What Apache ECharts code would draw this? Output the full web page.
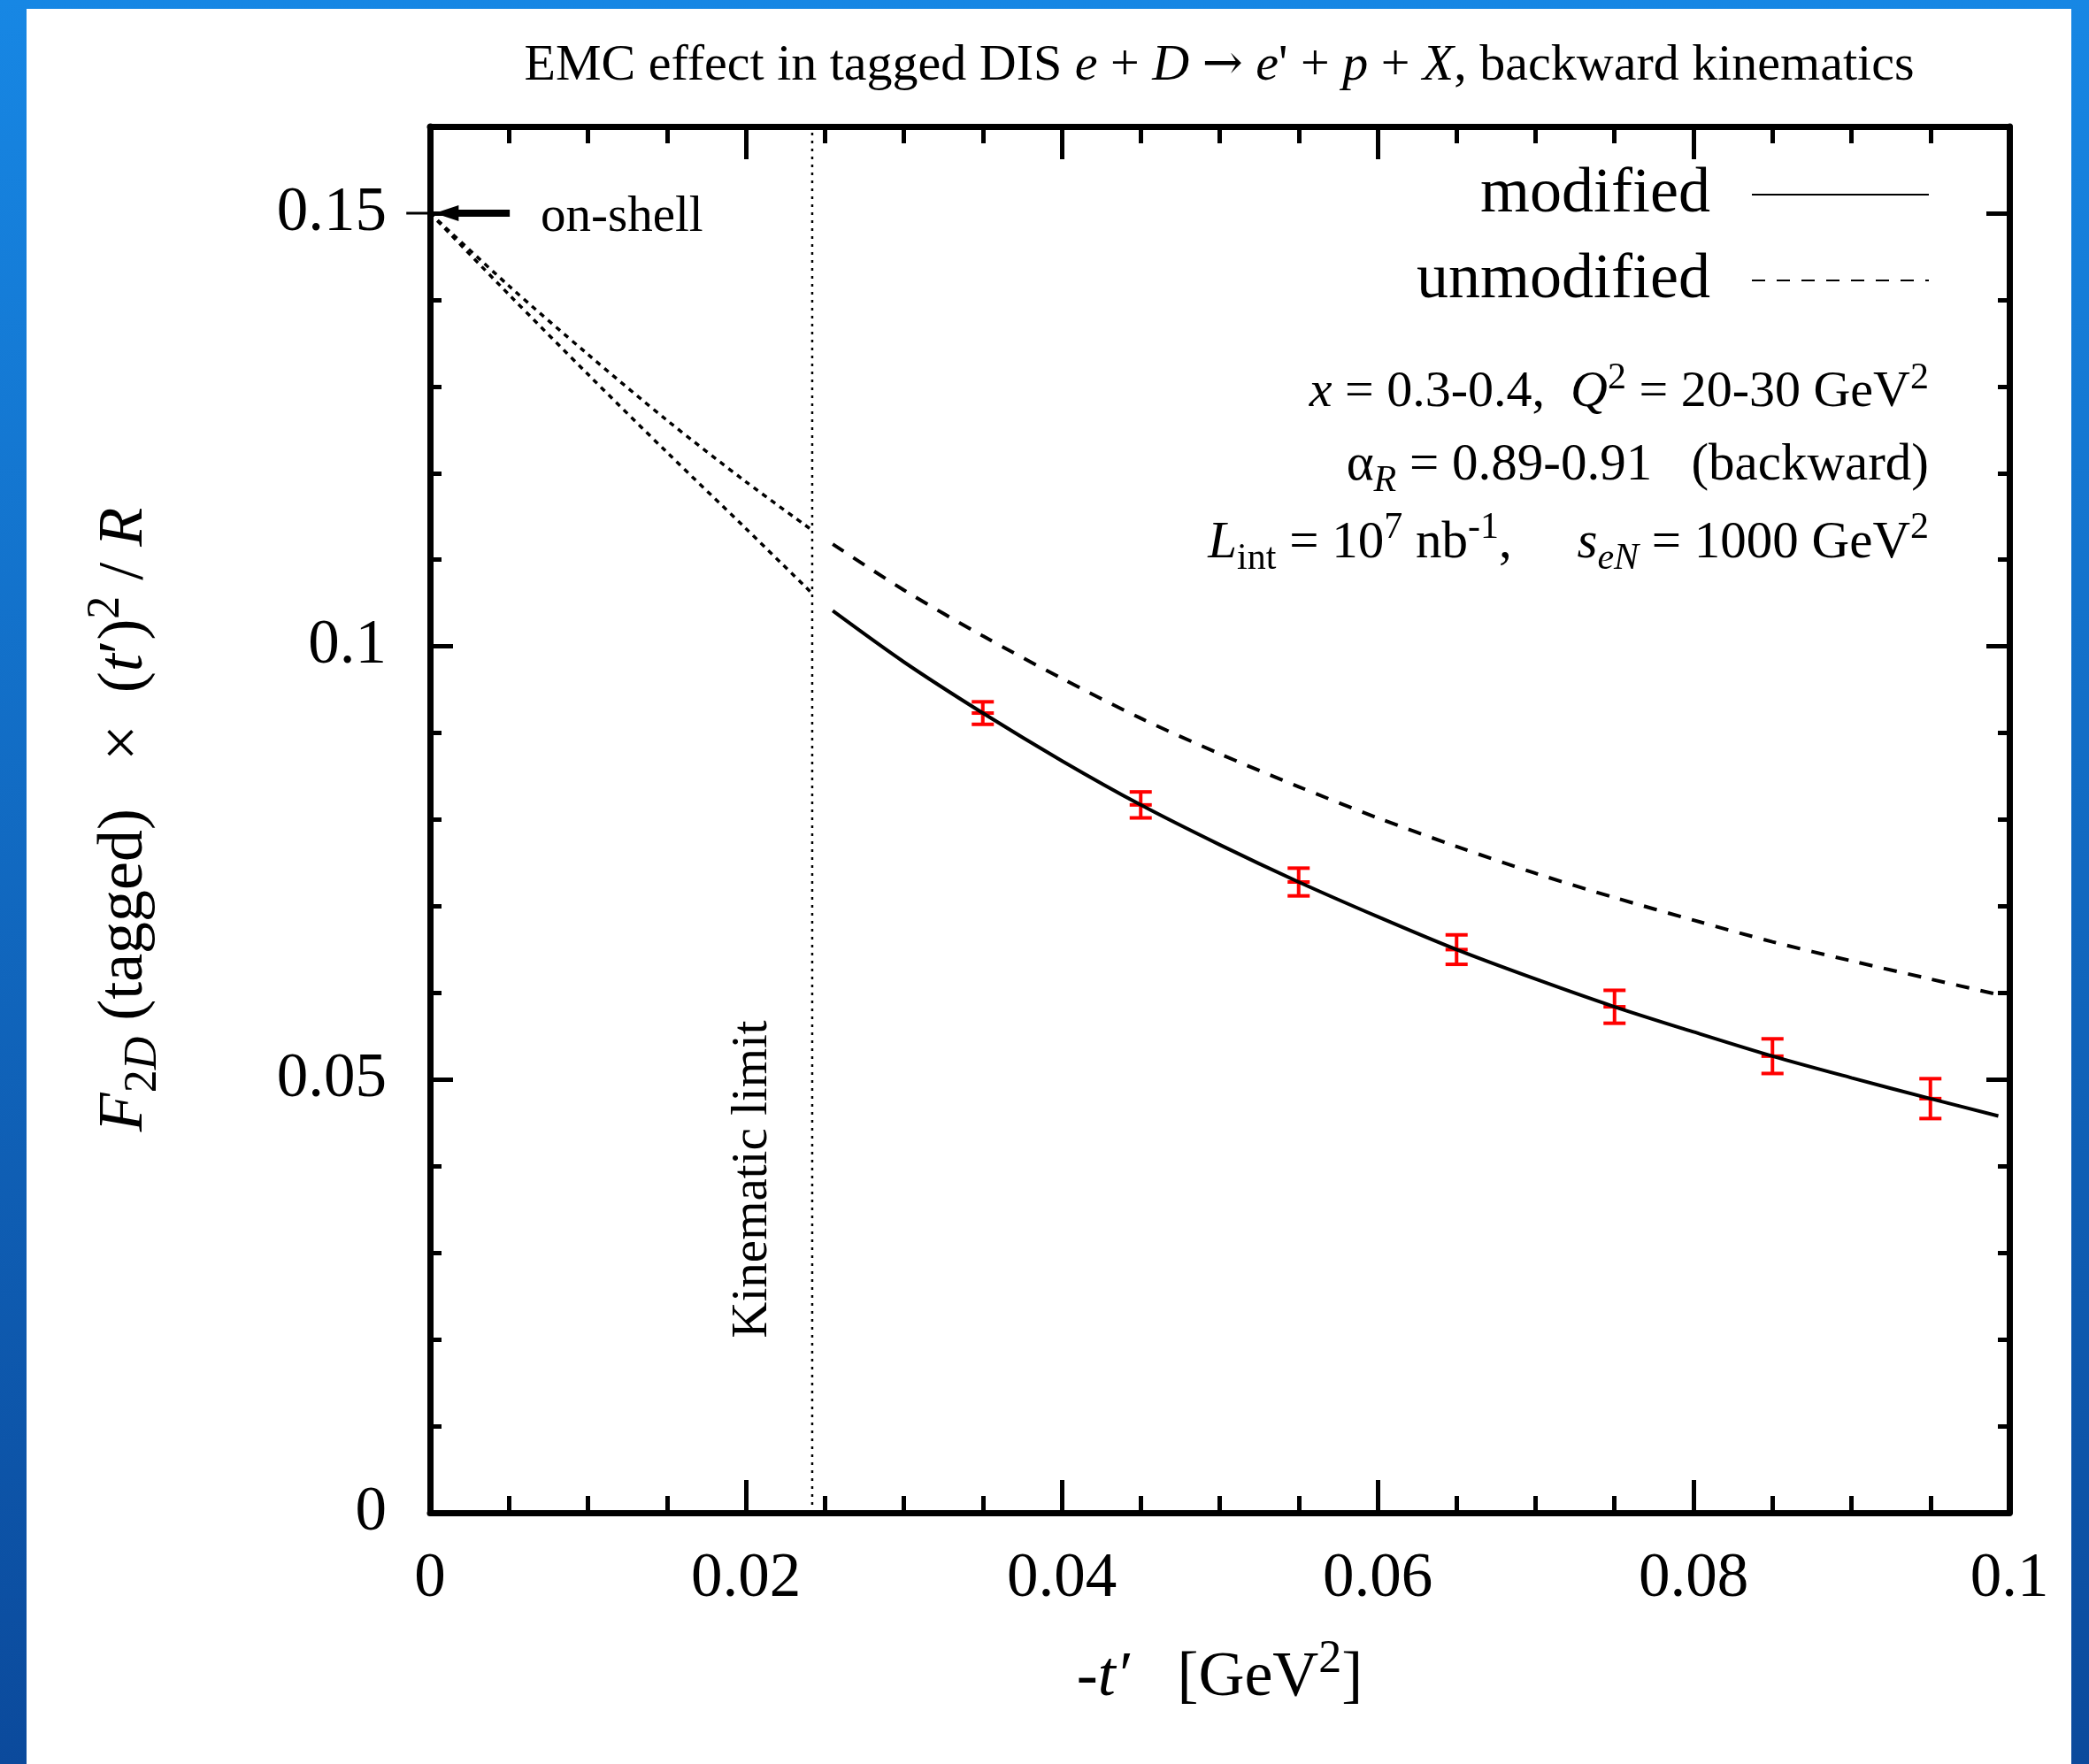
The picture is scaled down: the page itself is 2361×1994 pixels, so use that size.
<!DOCTYPE html>
<html><head><meta charset="utf-8">
<script src="https://cdn.jsdelivr.net/npm/echarts@6/dist/echarts.min.js"></script>
<style>html,body{margin:0;padding:0;background:#fff}#c{width:2361px;height:1994px}</style>
</head><body><div id="c"></div><script>
// ---------- data ----------
const tCurve = [0.0255, 0.030, 0.035, 0.040, 0.045, 0.050, 0.055, 0.060, 0.065, 0.070, 0.075, 0.080, 0.085, 0.090, 0.095, 0.0993];
const modifiedCurve = [0.1041, 0.0982, 0.0923, 0.0868, 0.0817, 0.0771, 0.0728, 0.0688, 0.0650, 0.0616, 0.0584, 0.0555, 0.0527, 0.0502, 0.0478, 0.0458];
const unmodifiedCurve = [0.1118, 0.1065, 0.1012, 0.0963, 0.0917, 0.0876, 0.0838, 0.0802, 0.0769, 0.0738, 0.0710, 0.0684, 0.0659, 0.0637, 0.0616, 0.0598];
const tExtrap = [0.0, 0.005, 0.010, 0.015, 0.020, 0.0242];
const modifiedExtrap = [0.150, 0.1406, 0.1314, 0.1224, 0.1136, 0.1061];
const unmodifiedExtrap = [0.150, 0.1416, 0.1337, 0.1261, 0.1190, 0.1134];
const tData = [0.035, 0.045, 0.055, 0.065, 0.075, 0.085, 0.095];
const fData = [0.0923, 0.0817, 0.0728, 0.0650, 0.0584, 0.0527, 0.0478];
const fErr = [0.0013, 0.0015, 0.0016, 0.0017, 0.0019, 0.0020, 0.0023];
const kinematicLimit = 0.0242;
const onShellValue = 0.15;
const onShellArrowT = [0.00505, 0.0003, -0.0015]; // tail, tip, outer stub
const xTicks = {min: 0, max: 0.1, major: 0.02, minor: 0.005};
const yTicks = {min: 0, max: 0.16, major: 0.05, minor: 0.01};

// ---------- helpers ----------
const SERIF = '"Liberation Serif", "Times New Roman", serif';
function rich(fs) {
  const L = Math.round(fs * 1.3), s = Math.round(fs * 0.72);
  return {
    i: {fontSize: fs, fontFamily: SERIF, fontStyle: 'italic', lineHeight: L, color: '#000'},
    ar: {fontSize: Math.round(fs * 0.95), fontFamily: '"DejaVu Serif", serif', lineHeight: L, color: '#000'},
    sup: {fontSize: s, fontFamily: SERIF, lineHeight: s, verticalAlign: 'top', color: '#000'},
    sub: {fontSize: s, fontFamily: SERIF, lineHeight: s, verticalAlign: 'bottom', color: '#000'},
    subi: {fontSize: s, fontFamily: SERIF, fontStyle: 'italic', lineHeight: s, verticalAlign: 'bottom', color: '#000'}
  };
}
function txt(text, x, y, fs, align, extra) {
  return Object.assign({
    type: 'text', x: x, y: y, z: 50,
    style: {text: text, fontFamily: SERIF, fontSize: fs, lineHeight: Math.round(fs * 1.3),
      fill: '#000', align: align, verticalAlign: 'middle', rich: rich(fs)}
  }, extra || {});
}
const pairs = (xs, ys) => xs.map((x, k) => [x, ys[k]]);

function xAx(pos, interval, len, main) {
  return {
    type: 'value', position: pos, min: xTicks.min, max: xTicks.max, interval: interval,
    axisLine: {show: main, onZero: false, lineStyle: {color: '#000', width: 7}},
    axisTick: {show: true, inside: true, length: len, lineStyle: {color: '#000', width: 5}},
    axisLabel: {show: main && pos === 'bottom', margin: 40, fontFamily: SERIF, fontSize: 71, color: '#000'},
    splitLine: {show: false}
  };
}
function yAx(pos, interval, len, main) {
  return {
    type: 'value', position: pos, min: yTicks.min, max: yTicks.max, interval: interval,
    axisLine: {show: main, onZero: false, lineStyle: {color: '#000', width: 7}},
    axisTick: {show: true, inside: true, length: len, lineStyle: {color: '#000', width: 5}},
    axisLabel: {show: main && pos === 'left', margin: 49, fontFamily: SERIF, fontSize: 71, color: '#000', showMaxLabel: false},
    splitLine: {show: false}
  };
}
const xAxes = [xAx('bottom', xTicks.major, 37, true), xAx('bottom', xTicks.minor, 19, false),
               xAx('top', xTicks.major, 37, true), xAx('top', xTicks.minor, 19, false)];
Object.assign(xAxes[0], {
  name: '-{i|t′}   [GeV{sup|2}]', nameLocation: 'middle', nameGap: 140,
  nameTextStyle: {fontFamily: SERIF, fontSize: 72, lineHeight: 94, color: '#000', rich: rich(72)}
});
const yAxes = [yAx('left', yTicks.major, 26, true), yAx('left', yTicks.minor, 13, false),
               yAx('right', yTicks.major, 26, true), yAx('right', yTicks.minor, 13, false)];
Object.assign(yAxes[0], {
  name: '{i|F}{sub|2}{subi|D} (tagged)   ×  ({i|t}′){sup|2} / {i|R}', nameLocation: 'middle', nameGap: 298,
  nameTextStyle: {fontFamily: SERIF, fontSize: 72, lineHeight: 94, color: '#000', rich: rich(72)}
});

const chart = echarts.init(document.getElementById('c'), null, {renderer: 'canvas'});
chart.setOption({
  animation: false,
  backgroundColor: '#fff',
  grid: {left: 486, right: 90, top: 143, bottom: 284},
  xAxis: xAxes,
  yAxis: yAxes,
  legend: {
    data: ['modified', 'unmodified'], orient: 'vertical', align: 'right',
    right: 175, top: 175, itemWidth: 200, itemHeight: 20, itemGap: 17,
    itemStyle: {color: 'rgba(0,0,0,0)', borderColor: 'rgba(0,0,0,0)', borderWidth: 0},
    textStyle: {fontFamily: SERIF, fontSize: 72, lineHeight: 80, color: '#000', padding: [0, 42, 0, 0]},
    selectedMode: false
  },
  graphic: [
    {type: 'rect', z: -100, shape: {x: 0, y: 0, width: 2361, height: 1994},
     style: {fill: new echarts.graphic.LinearGradient(0, 0, 0, 1, [
       {offset: 0, color: '#1787e4'}, {offset: 1, color: '#0b4a9c'}])}},
    {type: 'rect', z: -99, shape: {x: 30, y: 10, width: 2311, height: 1994}, style: {fill: '#fff'}},
    txt('EMC effect in tagged DIS {i|e} + {i|D} {ar|→} {i|e}\' + {i|p} + {i|X}, backward kinematics', 1378, 75, 58, 'center'),
    txt('on-shell', 611, 246, 57, 'left'),
    txt('{i|x} = 0.3-0.4,  {i|Q}{sup|2} = 20-30 GeV{sup|2}', 2180, 444, 58, 'right'),
    txt('α{subi|R} = 0.89-0.91   (backward)', 2180, 526, 59, 'right'),
    txt('{i|L}{sub|int} = 10{sup|7} nb{sup|-1},     {i|s}{subi|eN} = 1000 GeV{sup|2}', 2180, 614, 59, 'right'),
    txt('Kinematic limit', 851, 1333, 57, 'center', {rotation: Math.PI / 2})
  ],
  series: [
    {
      name: 'kinematic limit', type: 'line', symbol: 'none', silent: true,
      data: [[kinematicLimit, yTicks.min], [kinematicLimit, yTicks.max]],
      lineStyle: {color: '#000', width: 2.5, type: [3, 6]}
    },
    {
      name: 'data', type: 'custom', z: 1,
      data: tData.map((t, k) => [t, fData[k], fErr[k]]),
      renderItem: function (params, api) {
        const x = api.value(0), y = api.value(1), e = api.value(2);
        const c = api.coord([x, y]), hi = api.coord([x, y + e]), lo = api.coord([x, y - e]);
        const hw = 12.5, st = {stroke: '#ff0000', lineWidth: 4};
        return {type: 'group', children: [
          {type: 'line', shape: {x1: c[0], y1: hi[1], x2: c[0], y2: lo[1]}, style: st},
          {type: 'line', shape: {x1: c[0] - hw, y1: hi[1], x2: c[0] + hw, y2: hi[1]}, style: st},
          {type: 'line', shape: {x1: c[0] - hw, y1: lo[1], x2: c[0] + hw, y2: lo[1]}, style: st},
          {type: 'line', shape: {x1: c[0] - hw, y1: c[1], x2: c[0] + hw, y2: c[1]}, style: st}
        ]};
      }
    },
    {
      name: 'modified', type: 'line', symbol: 'none', smooth: 0.3, z: 3,
      data: pairs(tCurve, modifiedCurve),
      lineStyle: {color: '#000', width: 4, type: 'solid'}, itemStyle: {color: '#000'}
    },
    {
      name: 'unmodified', type: 'line', symbol: 'none', smooth: 0.3,
      data: pairs(tCurve, unmodifiedCurve),
      lineStyle: {color: '#000', width: 4, type: [15, 13]}, itemStyle: {color: '#000'}
    },
    {
      name: 'modified (extrapolation)', type: 'line', symbol: 'none', smooth: 0.3,
      data: pairs(tExtrap, modifiedExtrap),
      lineStyle: {color: '#000', width: 3.5, type: [6, 6]}
    },
    {
      name: 'unmodified (extrapolation)', type: 'line', symbol: 'none', smooth: 0.3,
      data: pairs(tExtrap, unmodifiedExtrap),
      lineStyle: {color: '#000', width: 3.5, type: [6, 6]}
    },
    {
      name: 'on-shell arrow', type: 'custom', clip: false, z: 5, silent: true,
      data: [[onShellArrowT[0], onShellValue, onShellArrowT[1], onShellArrowT[2]]],
      renderItem: function (params, api) {
        const y = api.value(1);
        const tail = api.coord([api.value(0), y]);
        const tip = api.coord([api.value(2), y]);
        const stub = api.coord([api.value(3), y]);
        const head = 27;
        return {type: 'group', children: [
          {type: 'line', shape: {x1: stub[0], y1: stub[1], x2: tip[0], y2: tip[1]}, style: {stroke: '#000', lineWidth: 3}},
          {type: 'line', shape: {x1: tip[0] + head - 3, y1: tail[1], x2: tail[0], y2: tail[1]}, style: {stroke: '#000', lineWidth: 8}},
          {type: 'polygon', shape: {points: [[tip[0], tip[1]], [tip[0] + head, tip[1] - 9], [tip[0] + head, tip[1] + 9]]},
           style: {fill: '#000'}}
        ]};
      }
    }
  ]
});
</script></body></html>
